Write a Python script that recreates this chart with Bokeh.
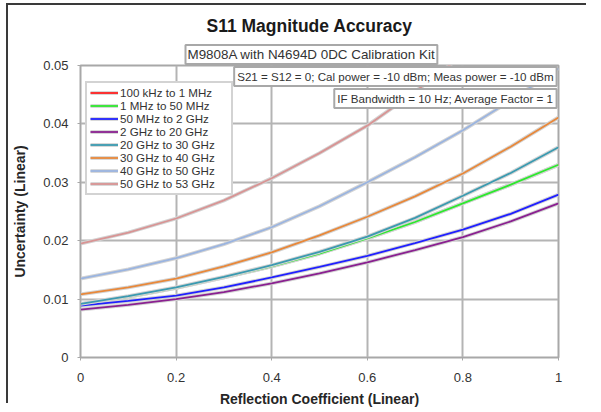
from bokeh.plotting import figure
from bokeh.models import (Range1d, FixedTicker, CustomJSTickFormatter, Label,
                          Legend, LegendItem, Title, InlineStyleSheet)
from bokeh.embed import file_html
from bokeh.resources import INLINE

# ---------------- data ----------------
reflection = [0.0, 0.1, 0.2, 0.3, 0.4, 0.5, 0.6, 0.7, 0.8, 0.9, 1.0]

band_names = ["100 kHz to 1 MHz", "1 MHz to 50 MHz", "50 MHz to 2 GHz",
              "2 GHz to 20 GHz", "20 GHz to 30 GHz", "30 GHz to 40 GHz",
              "40 GHz to 50 GHz", "50 GHz to 53 GHz"]

u_100k_1M = [0.0091, 0.0104, 0.0119, 0.0137, 0.0156, 0.0178, 0.0204, 0.0232, 0.0264, 0.0296, 0.0330]
u_1M_50M = [0.0091, 0.0104, 0.0119, 0.0137, 0.0156, 0.0178, 0.0204, 0.0232, 0.0264, 0.0296, 0.0330]
u_50M_2G = [0.0089, 0.0097, 0.0106, 0.0120, 0.0137, 0.0155, 0.0174, 0.0196, 0.0219, 0.0246, 0.0279]
u_2G_20G = [0.0082, 0.0090, 0.0100, 0.0112, 0.0127, 0.0144, 0.0163, 0.0184, 0.0206, 0.0233, 0.0264]
u_20G_30G = [0.0092, 0.0105, 0.0120, 0.0138, 0.0158, 0.0181, 0.0207, 0.0239, 0.0277, 0.0316, 0.0360]
u_30G_40G = [0.0108, 0.0120, 0.0135, 0.0156, 0.0180, 0.0209, 0.0241, 0.0276, 0.0315, 0.0361, 0.0411]
u_40G_50G = [0.0135, 0.0151, 0.0170, 0.0194, 0.0223, 0.0259, 0.0300, 0.0343, 0.0389, 0.0440, 0.0495]
u_50G_53G = [0.0195, 0.0214, 0.0238, 0.0269, 0.0307, 0.0350, 0.0397, 0.0455, 0.0518, 0.0590, 0.0668]

series = [u_100k_1M, u_1M_50M, u_50M_2G, u_2G_20G, u_20G_30G, u_30G_40G, u_40G_50G, u_50G_53G]
colors = ["#ff2020", "#2ee82e", "#2020ff", "#8a2090", "#3a9ab0", "#e8883a", "#9ab4e0", "#d89494"]

x_ticks = [0, 0.2, 0.4, 0.6, 0.8, 1]
y_ticks = [0, 0.01, 0.02, 0.03, 0.04, 0.05]

title_text = "S11 Magnitude Accuracy"
subtitle_text = "M9808A with N4694D 0DC Calibration Kit"
note1_text = "S21 = S12 = 0; Cal power = -10 dBm; Meas power = -10 dBm"
note2_text = "IF Bandwidth = 10 Hz; Average Factor = 1"

FONT = "Liberation Sans"
GRID = "#b4b4b4"
BOX = "#a8a8a8"

# outer frame of the picture (thin dark line along top and left)
frame_css = InlineStyleSheet(css="""
:host { overflow: hidden; }
:host::after {
  content: "";
  position: absolute;
  box-sizing: border-box;
  left: 6px; top: 3px; width: 580px; height: 400px;
  border-top: 2px solid #3a3a3a;
  border-left: 2px solid #3a3a3a;
  pointer-events: none;
}
""")

# ---------------- figure ----------------
p = figure(width=601, height=412, output_backend="svg", toolbar_location=None,
           x_range=Range1d(0, 1), y_range=Range1d(0, 0.05),
           min_border_left=80, min_border_right=43, min_border_top=65,
           min_border_bottom=55, stylesheets=[frame_css])
p.background_fill_color = "white"
p.border_fill_color = "white"
p.outline_line_color = BOX
p.outline_line_width = 2

for ax in (p.xaxis[0], p.yaxis[0]):
    ax.axis_line_color = BOX
    ax.axis_line_width = 1
    ax.major_tick_line_color = BOX
    ax.major_tick_in = 0
    ax.major_tick_out = 3
    ax.minor_tick_line_color = None
    ax.major_label_text_font = FONT
    ax.major_label_text_font_size = "13px"
    ax.major_label_text_color = "#333333"
    ax.axis_label_text_font = FONT
    ax.axis_label_text_font_style = "bold"
    ax.axis_label_text_font_size = "14px"
    ax.axis_label_text_color = "#262626"
    ax.formatter = CustomJSTickFormatter(code="return String(Math.round(tick*1000)/1000)")

p.xaxis.ticker = FixedTicker(ticks=x_ticks)
p.yaxis.ticker = FixedTicker(ticks=y_ticks)
p.xaxis.axis_label = "Reflection Coefficient (Linear)"
p.yaxis.axis_label = "Uncertainty (Linear)"
p.xaxis.major_label_standoff = 12
p.xaxis.axis_label_standoff = 6
p.yaxis.major_label_standoff = 9
p.yaxis.axis_label_standoff = 12

p.xgrid.grid_line_color = GRID
p.xgrid.grid_line_width = 2
p.ygrid.grid_line_color = GRID
p.ygrid.grid_line_width = 2

items = []
for name, ys, col in zip(band_names, series, colors):
    halo = p.line(reflection, ys, line_color="#d4d4d4", line_width=3.8)
    ln = p.line(reflection, ys, line_color=col, line_width=1.8)
    items.append(LegendItem(label=name, renderers=[halo, ln]))

legend = Legend(items=items, location=(5, 162))
legend.label_text_font = FONT
legend.label_text_font_size = "11.6px"
legend.label_text_color = "#333333"
legend.label_height = 11
legend.label_width = 108
legend.glyph_height = 11
legend.glyph_width = 28
legend.label_standoff = 2
legend.spacing = 0
legend.padding = 3
legend.margin = 0
legend.border_line_color = BOX
legend.border_line_width = 2
legend.background_fill_color = "white"
legend.background_fill_alpha = 1
p.add_layout(legend, "center")

# ---------------- titles ----------------
sub = Title(text=subtitle_text, align="left", offset=105, text_font=FONT,
            text_font_size="13.4px", text_font_style="normal", text_color="#333333",
            background_fill_color="white", border_line_color=BOX,
            border_line_width=2, padding=2, standoff=3)
p.add_layout(sub, "above")
ttl = Title(text=title_text, align="left", offset=126, text_font=FONT,
            text_font_size="17.5px", text_font_style="bold", text_color="#1a1a1a",
            standoff=11)
p.add_layout(ttl, "above")

p.add_layout(Label(x=0.996, y=0.0481, text=note1_text, text_align="right",
                   text_baseline="middle", text_font=FONT, text_font_size="11.6px",
                   text_color="#333333", background_fill_color="white",
                   border_line_color=BOX, border_line_width=2, padding=3))
p.add_layout(Label(x=0.996, y=0.04435, text=note2_text, text_align="right",
                   text_baseline="middle", text_font=FONT, text_font_size="11.6px",
                   text_color="#333333", background_fill_color="white",
                   border_line_color=BOX, border_line_width=2, padding=3))

open("out.html", "w").write(file_html(p, INLINE))
